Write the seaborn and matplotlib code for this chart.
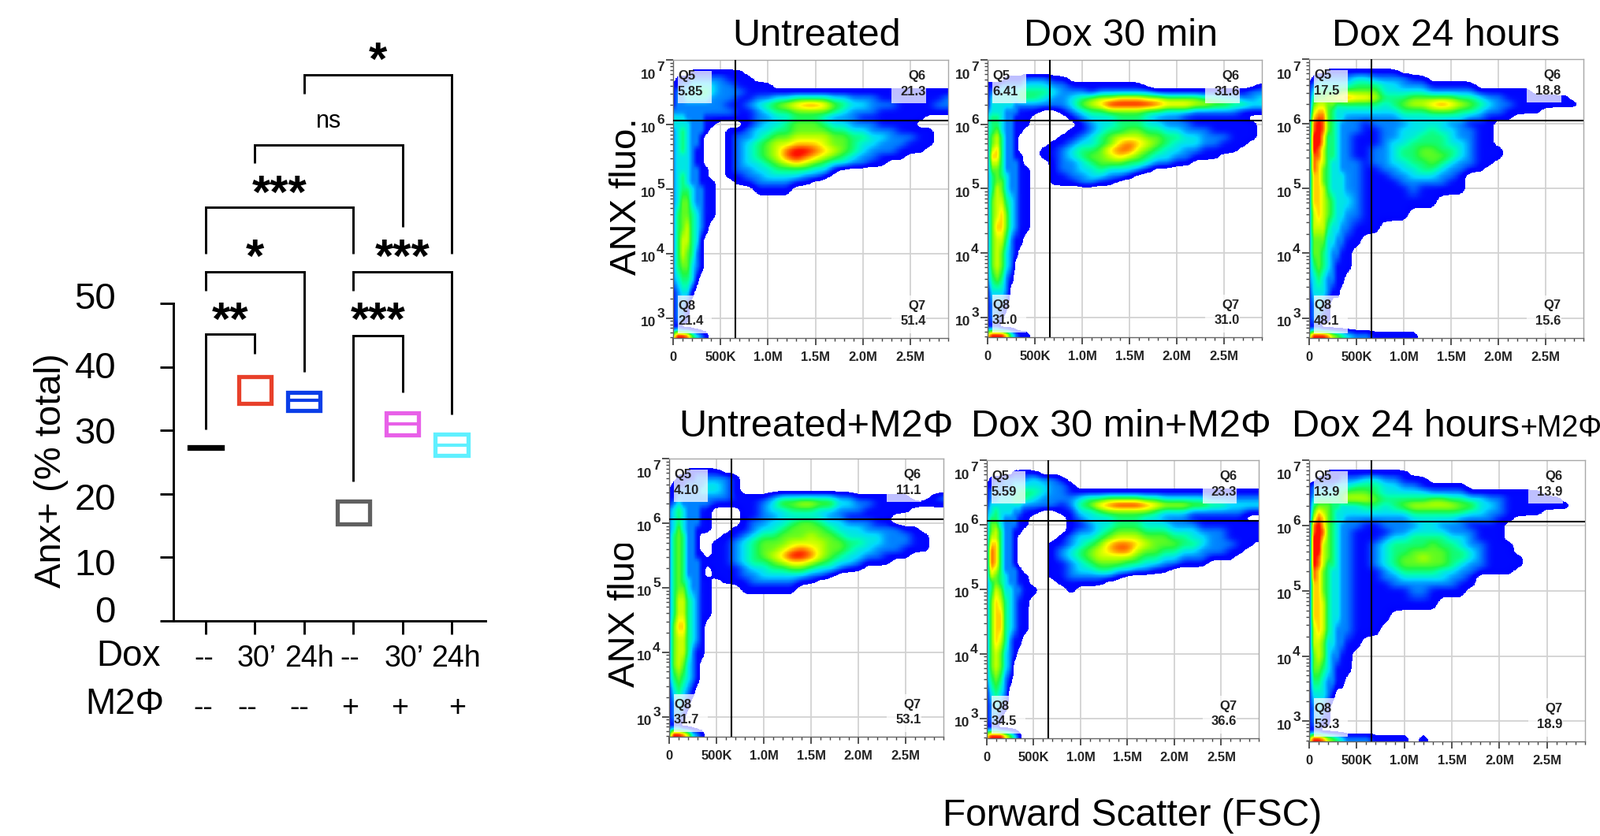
import numpy as np
import pandas as pd
import matplotlib
matplotlib.use("Agg")
import matplotlib.pyplot as plt
from matplotlib.colors import LinearSegmentedColormap, Normalize
from matplotlib.patches import Rectangle
from matplotlib.ticker import MultipleLocator, FixedLocator, FixedFormatter, NullFormatter
from matplotlib.transforms import Bbox
import seaborn as sns

W, H = 2030, 1061
sns.set_style("ticks")
plt.rcParams["font.family"] = ["Liberation Sans", "DejaVu Sans"]
plt.rcParams["text.color"] = "black"

# ---- bar chart values ----
groups = ["ctrl", "dox30", "dox24", "m2", "dox30m2", "dox24m2"]
box_low = [27.15, 34.3, 33.1, 15.2, 29.3, 26.1]
box_high = [27.45, 38.5, 36.0, 18.8, 32.8, 29.4]
box_mid = [27.3, 36.4, 34.7, 17.0, 31.0, 27.7]
show_mid = [False, False, True, False, True, True]
box_colors = ["#000000", "#e8402a", "#0a3ee8", "#606060", "#e860e8", "#5ff0ff"]
dox_labels = ["--", "30’", "24h", "--", "30’", "24h"]
m2_labels = ["--", "--", "--", "+", "+", "+"]
y_tick_values = [0, 10, 20, 30, 40, 50]
br_left = [0, 0, 0, 1, 2, 3, 3]
br_right = [1, 2, 3, 4, 5, 5, 4]
br_top = [45.2, 55.0, 65.1, 75.0, 86.0, 55.0, 44.9]
br_left_end = [30.1, 52.0, 57.8, 72.1, 83.0, 52.0, 22.0]
br_right_end = [42.0, 39.2, 57.8, 62.0, 57.8, 32.5, 36.0]
star_x = [0.5, 1.0, 1.5, 3.5, 4.0, 3.5]
star_y = [48.6, 58.5, 68.5, 89.5, 58.5, 48.6]
star_text = ["**", "*", "***", "*", "***", "***"]

# ---- flow panels ----
panel_titles = ["Untreated", "Dox 30 min", "Dox 24 hours", "Untreated+M2Φ", "Dox 30 min+M2Φ", "Dox 24 hours"]
q5_vals = ["5.85", "6.41", "17.5", "4.10", "5.59", "13.9"]
q6_vals = ["21.3", "31.6", "18.8", "11.1", "23.3", "13.9"]
q7_vals = ["51.4", "31.0", "15.6", "53.1", "36.6", "18.9"]
q8_vals = ["21.4", "31.0", "48.1", "31.7", "34.5", "53.3"]
fsc_bins = [0, .05, .1, .15, .2, .25, .3, .35, .4, .5, .6, .7, .8, .9, 1.0, 1.1, 1.2, 1.3, 1.4, 1.5,
            1.6, 1.7, 1.8, 1.9, 2.0, 2.1, 2.2, 2.3, 2.4, 2.5, 2.6, 2.7, 2.8, 2.9]
anx_bins = [6.9, 6.8, 6.7, 6.6, 6.5, 6.4, 6.3, 6.2, 6.1, 6.0, 5.9, 5.8, 5.7, 5.6, 5.5, 5.4, 5.3, 5.2, 5.1, 5.0,
            4.8, 4.6, 4.4, 4.2, 4.0, 3.8, 3.6, 3.4, 3.2, 3.0, 2.85, 2.72]
gate_fsc = 0.655
gate_anx = 10 ** 6.055

density_untreated = """
0
000011111 111
011122222 2111
112233333 221111
122333443 2221111111111111111111111
122333332 2211223344443322211111112
122222222 2112345678875433222111122
222222222 2211234455554322211111111
333222211 1111223344432221111111000
333322211 0001233455543322211110000
234322210 0112334455554433222111100
234322100 0122345566665544332221100
234322100 0123456677765543322211100
234321100 0123456899876543222111000
233321100 0123456898765432211100000
233321100 0123345676543322110000000
233322110 0122334444331
234322110 011223333221
234322111 0011222211
234432211 000011110
235532211
245543211
245643210
246643100
246542100
245532100
234431000
123310000
122100000
122100000
110000000
699853210
"""
density_dox30 = """
0
0
000011112 2211
111222223 3322111111110000000000001
122333344 4432221222222111111111122
133333344 4322345667776655554433223
133333222 2222356799999877766554433
233322211 1001234455554433322222111
344322111 0000123334443222111111100
344322111 0000012334443322211111110
345322110 0000112344554433222111110
356422100 0001123456665544332221110
356422100 0011233457876543332211100
267422100 0112344578865433221111000
277422110 0112345567654332211100000
266422210 0012234555443221100000000
255422211 0012233433321
245432211 00112233221
245532211 001112211
246532211
256643211
256753211
257753211
256642110
256532100
256532000
245421000
133320000
122210000
122100000
111000000
799974211
"""
density_dox24 = """
0
000011111 11111
012222222 33222211
123333333 4443322211111
134444455 5553333322222111111
145566778 7764445555544322111111100
156655444 4443456678765432211111110
167754333 3333344455544322111100000
278854332 22222333333322111
289854322 212222333322111
289854322 211223334332211
299744322 111223344432211
299744322 111233444433211
298644322 1122344554432111
288644322 1122344555432111
287643322 212233445432211
287543322 21122334432211
277543332 211122333221
277543332 211112222211
277643332 211111211111
277654333 211111111
267654332 211111
266643322 111
255533221 1
255432211
245432111
234322110
133321100
123210000
122110000
111000000
699986543 2211111
"""
density_untreated_m2 = """
0
000011111 1
001111222 221
011122223 321
112222233 321
112222222 2211112333333221111110012
123222222 1111123556655332211111111
234322211 0001123344433222111110000
234322211 0001122333332211111000000
234322211 0001223345543322211000000
235322111 0011233455554333222211000
245422100 0112344555655433332221100
245422100 1123455566665544332221100
245422100 1123455678765543322211100
245422110 1123456799865433221110000
245422211 1123445677654332111000000
245422210 1112334455433211
245422210 1112233333221
245432211 01112222211
245532211 000111111
246643211
246643211
257743210
256643210
256642110
256532100
245432100
134321000
123210000
122100000
111000000
599863210
"""
density_dox30_m2 = """
0
000000111 1
011122222 3221
112222333 33221
122223344 4322111111111111111111111
122333444 3222234455554433333222222
133333332 2221245789998766655443333
234333221 1001133455555433322222211
244322211 0000123334443322211111100
255322211 0000112334443332221111111
256422110 0000122345554443332221111
266422100 0001233456665554433221111
277422100 0011234578876555443222110
287422100 0012345678865544332221100
287422100 0012345666654433222111000
287422100 0011234555443322111000000
276422210 0011233443322110000000000
265432211 0011222221
245432211 00011111
246533221 10001
257643211
257743211
257743211
257642110
256532100
256532000
245421000
134320000
123210000
122100000
111000000
799975310
"""
density_dox24_m2 = """
0
000011111 111111
001111122 23322111
122222333 444332211111
123333445 5543333322221111111100000
134444456 6654444455443322111111000
145554433 3443456666655332111111100
157654333 3333334444443322111100000
168754332 22222233333222211
189754322 2112222332221111
189854322 1111223333222111
199754322 1112334444332111
199654322 11234444544322111
199654322 11234455554432111
198654322 112345565544321111
198644322 112345555543221111
187543322 11123444433221111
187543322 1112233333221
177543322 1111222222211
177543322 111111221111
177643322 111111111
177643322 1111
167643222 111
166533221 1
156532211
155432111
144322110
133321000
123210000
122110000
111000000
699865432 22111101
"""
densities = [density_untreated, density_dox30, density_dox24,
             density_untreated_m2, density_dox30_m2, density_dox24_m2]


def read_table(text):
    rows = [r.replace(" ", "") for r in text.strip().splitlines()]
    rows = [r.ljust(len(fsc_bins), "0")[:len(fsc_bins)] for r in rows]
    return np.array([[int(c) for c in r] for r in rows], dtype=float)


def soften(z, n, axis):
    k = np.ones(n) / n
    pad = n
    def one(a):
        a = np.concatenate([np.full(pad, a[0]), a, np.full(pad, a[-1])])
        return np.convolve(a, k, mode="same")[pad:-pad]
    return np.apply_along_axis(one, axis, z)


def fine_density(table):
    xs = np.arange(0, 2.9001, 0.005)
    ys = np.arange(2.68, 7.0001, 0.01)
    ay = np.array(anx_bins)[::-1]
    t = table[::-1]
    a = np.array([np.interp(xs, fsc_bins, r) for r in t])
    b = np.array([np.interp(ys, ay, c) for c in a.T]).T
    fine = soften(soften(b, 5, 1), 9, 0)
    broad = soften(soften(soften(soften(b, 17, 1), 17, 1), 9, 0), 9, 0)
    w = np.clip((xs - 0.32) / 0.12, 0, 1)
    vertical = np.clip((ys[:, None] - 2.9) / 0.1, 0, 1)
    mixed = fine * (1 - w * vertical) + broad * (w * vertical)
    return xs, 10 ** ys, np.ma.masked_less(mixed, 0.5)


flow_cmap = LinearSegmentedColormap.from_list("flow", [
    (0.0, "#0000ff"), (0.06, "#0008ff"), (0.17, "#0078ff"), (0.27, "#00d8ff"), (0.37, "#00ffb0"),
    (0.48, "#20f840"), (0.62, "#a0ff00"), (0.74, "#ffff00"), (0.87, "#ff8a00"), (1.0, "#ff1000")])

fig = plt.figure(figsize=(W / 100, H / 100), dpi=100, facecolor="white")


def axes_px(l, t, r, b):
    return fig.add_axes([l / W, 1 - b / H, (r - l) / W, (b - t) / H])


def text_px(x, y, s, **kw):
    kw.setdefault("ha", "center")
    kw.setdefault("va", "center")
    return fig.text(x / W, 1 - y / H, s, **kw)


# ---- left chart ----
ax0 = axes_px(220, 385, 616, 788)
df = pd.DataFrame({"group": groups, "span": np.array(box_high) - np.array(box_low)})
sns.barplot(data=df, x="group", y="span", bottom=box_low, width=0.66, fill=False, color="black",
            errorbar=None, linewidth=3.8, ax=ax0)
for patch, c in zip(ax0.patches, box_colors):
    patch.set_edgecolor(c)
for i, (m, c, s) in enumerate(zip(box_mid, box_colors, show_mid)):
    if s:
        ax0.hlines(m, i - 0.33, i + 0.33, color=c, lw=3.0)
ax0.set_xlim(-0.657, 5.69)
ax0.set_ylim(0, 50)
ax0.set_xlabel("")
ax0.set_ylabel("")
ax0.set_xticks(range(6))
ax0.set_xticklabels([])
ax0.set_yticks(y_tick_values)
ax0.set_yticklabels([])
ax0.tick_params(axis="both", length=12.5, width=2.1, color="black")
for s in ["top", "right"]:
    ax0.spines[s].set_visible(False)
for s in ["left", "bottom"]:
    ax0.spines[s].set_linewidth(2.1)
    ax0.spines[s].set_color("black")
for a, b, t, le, re in zip(br_left, br_right, br_top, br_left_end, br_right_end):
    ax0.plot([a, a, b, b], [le, t, t, re], color="black", lw=2.1, clip_on=False,
             solid_joinstyle="miter", solid_capstyle="butt")
for x, y, s in zip(star_x, star_y, star_text):
    ax0.text(x, y - 3.5, s, ha="center", va="baseline", fontsize=43, fontweight="bold", clip_on=False)
ax0.text(2.5, 78.7, "ns", ha="center", va="center", fontsize=22, clip_on=False)

for yy, s in zip([778, 718, 635, 551, 468, 380], y_tick_values):
    text_px(147, yy, str(s), ha="right", fontsize=34)
text_px(65, 597, "Anx+ (% total)", rotation=90, fontsize=34)
text_px(163, 833, "Dox", fontsize=33)
text_px(158, 894, "M2Φ", fontsize=33)
for x, s in zip([259, 326, 392, 444, 513, 578], dox_labels):
    text_px(x, 836, s, fontsize=27)
for x, s in zip([258, 314, 380, 444, 507, 580], m2_labels):
    text_px(x, 899, s, fontsize=27)

# ---- flow panels ----
frames = [(854, 76, 1203, 429), (1253, 76, 1601, 428), (1661, 75, 2009, 429),
          (849, 582, 1197, 935), (1252, 584, 1597, 937), (1661, 584, 2011, 941)]
for i, (frame, table_text) in enumerate(zip(frames, densities)):
    ax = axes_px(*frame)
    ax.set_yscale("log")
    ax.set_xlim(0, 2.9)
    ax.set_ylim(490, 1e7)
    xs, ys, z = fine_density(read_table(table_text))
    ax.pcolormesh(xs, ys, z, cmap=flow_cmap, norm=Normalize(0.5, 8.7), shading="nearest",
                  zorder=1, rasterized=True)
    ax.set_axisbelow(True)
    ax.xaxis.set_minor_locator(MultipleLocator(0.1))
    ax.xaxis.set_major_locator(FixedLocator([0, .5, 1, 1.5, 2, 2.5]))
    ax.xaxis.set_major_formatter(FixedFormatter(["0", "500K", "1.0M", "1.5M", "2.0M", "2.5M"]))
    ax.yaxis.set_major_locator(FixedLocator([1e3, 1e4, 1e5, 1e6, 1e7]))
    ax.yaxis.set_minor_locator(FixedLocator([m * 10 ** k for k in range(2, 7) for m in range(2, 10)]))
    ax.yaxis.set_major_formatter(NullFormatter())
    ax.yaxis.set_minor_formatter(NullFormatter())
    ax.grid(True, which="major", color="#d2d2d2", lw=1.3, zorder=0)
    ax.tick_params(axis="both", which="major", length=6.5, width=1.2, color="#333333", pad=6)
    ax.tick_params(axis="both", which="minor", length=3.2, width=1.0, color="#444444")
    for lab in ax.get_xticklabels():
        lab.set_fontsize(12)
        lab.set_fontweight("bold")
        lab.set_color("#222222")
    for s in ["top", "right"]:
        ax.spines[s].set_color("#a8a8a8")
        ax.spines[s].set_linewidth(1.0)
    for s in ["left", "bottom"]:
        ax.spines[s].set_color("#666666")
        ax.spines[s].set_linewidth(1.0)
    for (x0, x1) in [(0.05, 0.41), (2.30, 2.665)]:
        for (y0, y1) in [(6.33, 6.83), (2.76, 3.35)]:
            ax.add_patch(Rectangle((x0, 10 ** y0), x1 - x0, 10 ** y1 - 10 ** y0, facecolor="white",
                                   edgecolor="none", alpha=0.75, zorder=2))
    ax.axvline(gate_fsc, color="black", lw=1.5, zorder=3)
    ax.axhline(gate_anx, color="black", lw=1.5, zorder=3)
    tkw = dict(fontsize=12, fontweight="bold", color="#222222", va="center", zorder=4)
    ax.text(0.05, 10 ** 6.75, "Q5", ha="left", **tkw)
    ax.text(0.05, 10 ** 6.51, q5_vals[i], ha="left", **tkw)
    ax.text(2.665, 10 ** 6.75, "Q6", ha="right", **tkw)
    ax.text(2.665, 10 ** 6.51, q6_vals[i], ha="right", **tkw)
    ax.text(0.05, 10 ** 3.19, "Q8", ha="left", **tkw)
    ax.text(0.05, 10 ** 2.95, q8_vals[i], ha="left", **tkw)
    ax.text(2.665, 10 ** 3.19, "Q7", ha="right", **tkw)
    ax.text(2.665, 10 ** 2.95, q7_vals[i], ha="right", **tkw)
    for k in [3, 4, 5, 6, 7]:
        dy10, dyexp = (-20, -10) if k == 7 else (-6, 5)
        akw = dict(xycoords=ax.get_yaxis_transform(), textcoords="offset points", ha="center", va="center",
                   fontsize=12.5, fontweight="bold", color="#222222", annotation_clip=False)
        ax.annotate("10", xy=(0, 10 ** k), xytext=(-31 * 0.72, dy10 * 0.72), **akw)
        ax.annotate(str(k), xy=(0, 10 ** k), xytext=(-16 * 0.72, dyexp * 0.72), **akw)

for x, y, s in zip([1036, 1422, 1835, 1035, 1422], [45, 45, 45, 541, 541], panel_titles[:5]):
    text_px(x, y, s, fontsize=35)
text_px(1639, 541, panel_titles[5], ha="left", fontsize=35)
text_px(1928, 544, "+M2Φ", ha="left", fontsize=27)
text_px(795, 249, "ANX fluo.", rotation=90, fontsize=34)
low_label = text_px(793, 772, "ANX fluo.", rotation=90, fontsize=34)
low_label.set_clip_box(Bbox([[760, H - 890], [805, H - 690]]))
low_label.set_clip_on(True)
text_px(1437, 1036, "Forward Scatter (FSC)", fontsize=34.5)

fig.savefig("out.png", dpi=100, facecolor="white")
